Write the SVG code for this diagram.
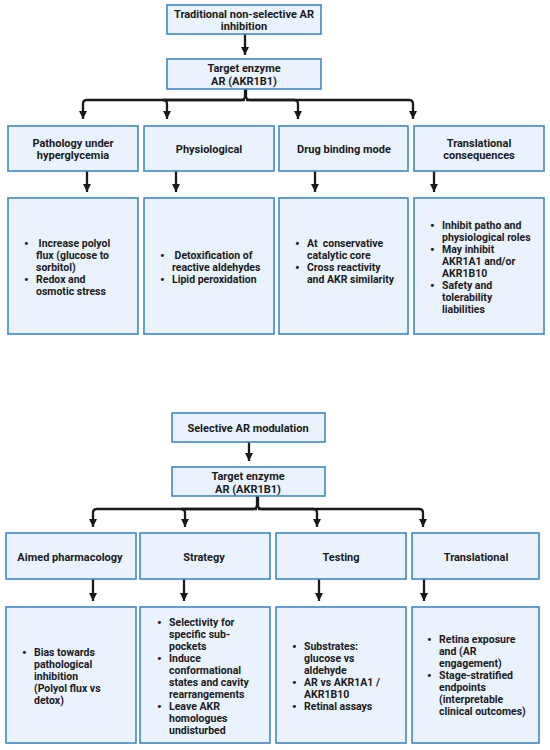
<svg xmlns="http://www.w3.org/2000/svg" width="550" height="750" viewBox="0 0 550 750">
<defs>
<style>
.box{fill:#eaf3fd;stroke:#3f87c9;stroke-width:1.6}
.t{font-family:Roboto,"Liberation Sans",sans-serif;font-weight:700;font-size:11px;fill:#1a1a1a;white-space:pre}
.h{text-anchor:middle}
.b{font-size:10.5px}
.d{font-size:13px}
.c{fill:none;stroke:#1a1a1a;stroke-width:2.3}
</style>
<marker id="ad" markerUnits="userSpaceOnUse" markerWidth="8" markerHeight="8" viewBox="0 0 8 8" refX="8" refY="4" orient="auto">
<path d="M0,0 L8,4 L0,8 Z" fill="#1a1a1a"/>
</marker>
</defs>
<rect width="550" height="750" fill="#ffffff"/>

<g id="connectors">
<path class="c" d="M245,34 V55" marker-end="url(#ad)"/>
<path class="c" d="M245,89 V96 Q245,100 241,100 H87 Q83,100 83,104 V119" marker-end="url(#ad)"/>
<path class="c" d="M245,100 H163 Q167,100 167,104 V119" marker-end="url(#ad)"/>
<path class="c" d="M246,89 V96 Q246,100 250,100 H409 Q413,100 413,104 V119" marker-end="url(#ad)"/>
<path class="c" d="M246,100 H294 Q298,100 298,104 V119" marker-end="url(#ad)"/>
<path class="c" d="M87,171 V192" marker-end="url(#ad)"/>
<path class="c" d="M176,171 V192" marker-end="url(#ad)"/>
<path class="c" d="M315,171 V192" marker-end="url(#ad)"/>
<path class="c" d="M434,171 V192" marker-end="url(#ad)"/>

<path class="c" d="M249,442 V461" marker-end="url(#ad)"/>
<path class="c" d="M257,496 V505 Q257,509 253,509 H97 Q93,509 93,513 V527" marker-end="url(#ad)"/>
<path class="c" d="M257,509 H181 Q185,509 185,513 V527" marker-end="url(#ad)"/>
<path class="c" d="M258,496 V505 Q258,509 262,509 H419 Q423,509 423,513 V527" marker-end="url(#ad)"/>
<path class="c" d="M258,509 H313 Q317,509 317,513 V527" marker-end="url(#ad)"/>
<path class="c" d="M93,579 V601" marker-end="url(#ad)"/>
<path class="c" d="M184,579 V601" marker-end="url(#ad)"/>
<path class="c" d="M319,579 V601" marker-end="url(#ad)"/>
<path class="c" d="M424,579 V601" marker-end="url(#ad)"/>
</g>

<g id="n-traditional">
<rect class="box" x="167" y="5" width="154" height="29"/>
<text class="t h" x="244" y="18">Traditional non-selective AR</text>
<text class="t h" x="244" y="30">inhibition</text>
</g>
<g id="n-target1">
<rect class="box" x="167" y="59" width="154" height="30"/>
<text class="t h" x="244" y="72">Target enzyme</text>
<text class="t h" x="244" y="85">AR (AKR1B1)</text>
</g>

<g id="n-pathology">
<rect class="box" x="8" y="126" width="130" height="45"/>
<text class="t h" x="73" y="147">Pathology under</text>
<text class="t h" x="73" y="159">hyperglycemia</text>
</g>
<g id="n-physiological">
<rect class="box" x="144" y="126" width="130" height="45"/>
<text class="t h" x="209" y="153">Physiological</text>
</g>
<g id="n-drug">
<rect class="box" x="279" y="126" width="129" height="45"/>
<text class="t h" x="344" y="153">Drug binding mode</text>
</g>
<g id="n-transcons">
<rect class="box" x="414" y="126" width="130" height="45"/>
<text class="t h" x="479" y="147">Translational</text>
<text class="t h" x="479" y="159">consequences</text>
</g>

<g id="n-pathology-detail">
<rect class="box" x="8" y="198" width="130" height="136"/>
<text class="t d" x="24" y="248">•</text>
<text class="t b" x="36" y="247"> Increase polyol</text>
<text class="t b" x="36" y="259">flux (glucose to</text>
<text class="t b" x="36" y="271">sorbitol)</text>
<text class="t d" x="24" y="284">•</text>
<text class="t b" x="36" y="283">Redox and</text>
<text class="t b" x="36" y="295">osmotic stress</text>
</g>
<g id="n-physiological-detail">
<rect class="box" x="144" y="198" width="130" height="136"/>
<text class="t d" x="160" y="260">•</text>
<text class="t b" x="172" y="259"> Detoxification of</text>
<text class="t b" x="172" y="271">reactive aldehydes</text>
<text class="t d" x="160" y="284">•</text>
<text class="t b" x="172" y="283">Lipid peroxidation</text>
</g>
<g id="n-drug-detail">
<rect class="box" x="279" y="198" width="129" height="136"/>
<text class="t d" x="295" y="248">•</text>
<text class="t b" x="307" y="247">At  conservative</text>
<text class="t b" x="307" y="259">catalytic core</text>
<text class="t d" x="295" y="272">•</text>
<text class="t b" x="307" y="271">Cross reactivity</text>
<text class="t b" x="307" y="283">and AKR similarity</text>
</g>
<g id="n-transcons-detail">
<rect class="box" x="414" y="198" width="130" height="136"/>
<text class="t d" x="430" y="230">•</text>
<text class="t b" x="442" y="229">Inhibit patho and</text>
<text class="t b" x="442" y="241">physiological roles</text>
<text class="t d" x="430" y="254">•</text>
<text class="t b" x="442" y="253">May inhibit</text>
<text class="t b" x="442" y="265">AKR1A1 and/or</text>
<text class="t b" x="442" y="277">AKR1B10</text>
<text class="t d" x="430" y="290">•</text>
<text class="t b" x="442" y="289">Safety and</text>
<text class="t b" x="442" y="301">tolerability</text>
<text class="t b" x="442" y="313">liabilities</text>
</g>

<g id="n-selective">
<rect class="box" x="172" y="413" width="153" height="29"/>
<text class="t h" x="248" y="432">Selective AR modulation</text>
</g>
<g id="n-target2">
<rect class="box" x="172" y="467" width="153" height="29"/>
<text class="t h" x="248" y="480">Target enzyme</text>
<text class="t h" x="248" y="493">AR (AKR1B1)</text>
</g>

<g id="n-aimed">
<rect class="box" x="6" y="533" width="130" height="46"/>
<text class="t h" x="70" y="561">Aimed pharmacology</text>
</g>
<g id="n-strategy">
<rect class="box" x="140" y="533" width="130" height="46"/>
<text class="t h" x="204" y="561">Strategy</text>
</g>
<g id="n-testing">
<rect class="box" x="276" y="533" width="130" height="46"/>
<text class="t h" x="341" y="561">Testing</text>
</g>
<g id="n-translational">
<rect class="box" x="412" y="533" width="127" height="46"/>
<text class="t h" x="476" y="561">Translational</text>
</g>

<g id="n-aimed-detail">
<rect class="box" x="6" y="607" width="130" height="136"/>
<text class="t d" x="22" y="657">•</text>
<text class="t b" x="34" y="656">Bias towards</text>
<text class="t b" x="34" y="668">pathological</text>
<text class="t b" x="34" y="680">inhibition</text>
<text class="t b" x="34" y="692">(Polyol flux vs</text>
<text class="t b" x="34" y="704">detox)</text>
</g>
<g id="n-strategy-detail">
<rect class="box" x="140" y="607" width="130" height="136"/>
<text class="t d" x="157" y="627">•</text>
<text class="t b" x="169" y="626">Selectivity for</text>
<text class="t b" x="169" y="638">specific sub-</text>
<text class="t b" x="169" y="650">pockets</text>
<text class="t d" x="157" y="663">•</text>
<text class="t b" x="169" y="662">Induce</text>
<text class="t b" x="169" y="674">conformational</text>
<text class="t b" x="169" y="686">states and cavity</text>
<text class="t b" x="169" y="698">rearrangements</text>
<text class="t d" x="157" y="711">•</text>
<text class="t b" x="169" y="710">Leave AKR</text>
<text class="t b" x="169" y="722">homologues</text>
<text class="t b" x="169" y="734">undisturbed</text>
</g>
<g id="n-testing-detail">
<rect class="box" x="276" y="607" width="130" height="136"/>
<text class="t d" x="292" y="651">•</text>
<text class="t b" x="304" y="650">Substrates:</text>
<text class="t b" x="304" y="662">glucose vs</text>
<text class="t b" x="304" y="674">aldehyde</text>
<text class="t d" x="292" y="687">•</text>
<text class="t b" x="304" y="686">AR vs AKR1A1 /</text>
<text class="t b" x="304" y="698">AKR1B10</text>
<text class="t d" x="292" y="711">•</text>
<text class="t b" x="304" y="710">Retinal assays</text>
</g>
<g id="n-translational-detail">
<rect class="box" x="412" y="607" width="127" height="136"/>
<text class="t d" x="427" y="644">•</text>
<text class="t b" x="439" y="643">Retina exposure</text>
<text class="t b" x="439" y="655">and (AR</text>
<text class="t b" x="439" y="667">engagement)</text>
<text class="t d" x="427" y="680">•</text>
<text class="t b" x="439" y="679">Stage-stratified</text>
<text class="t b" x="439" y="691">endpoints</text>
<text class="t b" x="439" y="703">(interpretable</text>
<text class="t b" x="439" y="715">clinical outcomes)</text>
</g>
</svg>
